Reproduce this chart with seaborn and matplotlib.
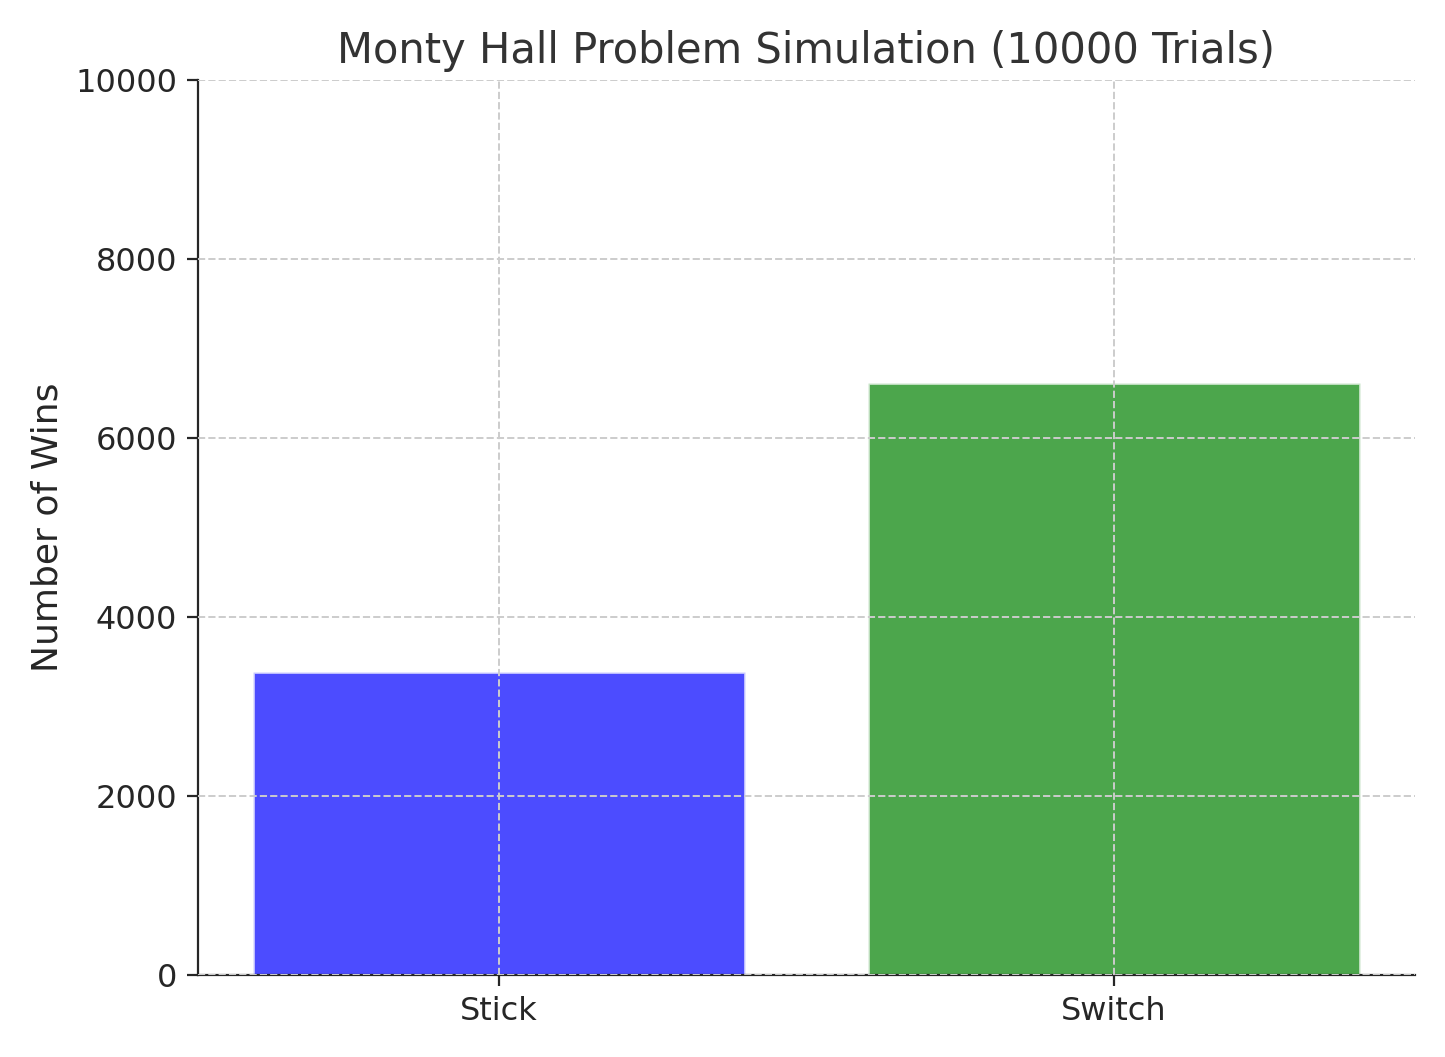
import matplotlib
matplotlib.use("Agg")
import seaborn as sns
import pandas as pd
from matplotlib import pyplot as plt

strategies = ["Stick", "Switch"]
wins = [3390, 6610]
bar_colors = ["blue", "green"]

df = pd.DataFrame({"Strategy": strategies, "Wins": wins})

sns.set_style("white")
fig, ax = plt.subplots(figsize=(7.225, 5.285), dpi=200)
sns.barplot(data=df, x="Strategy", y="Wins", hue="Strategy", palette=bar_colors,
            alpha=0.7, width=0.8, legend=False, ax=ax, saturation=1)

ax.set_ylim(0, 10000)
ax.set_xlim(-0.49, 1.49)
ax.set_title("Monty Hall Problem Simulation (10000 Trials)", fontsize=15, color="#333333")
ax.set_ylabel("Number of Wins", fontsize=13)
ax.set_xlabel("")
ax.tick_params(labelsize=11.5, left=True, bottom=True, length=4)
ax.grid(True, linestyle="--", color="#cccccc", linewidth=0.7)
ax.set_axisbelow(False)
sns.despine(ax=ax)
plt.tight_layout()
plt.savefig("out.png", dpi=200)
